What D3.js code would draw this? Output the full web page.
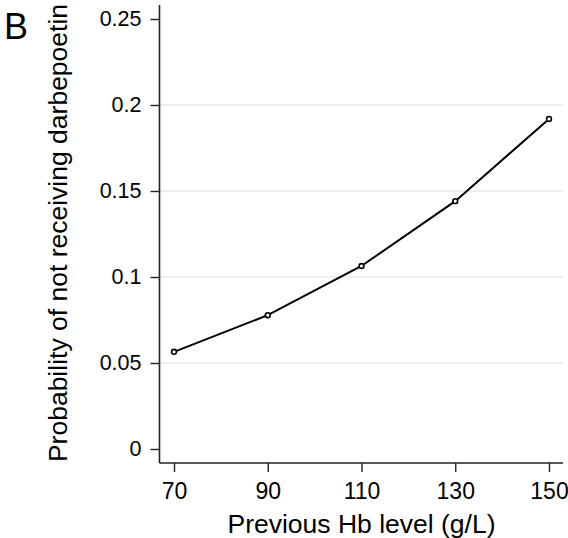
<!DOCTYPE html>
<html><head><meta charset="utf-8">
<script src="https://cdn.jsdelivr.net/npm/d3@7"></script>
<style>body{margin:0;background:#fff}text{font-family:"Liberation Sans",Arial,sans-serif}</style>
</head><body>
<svg id="c" width="568" height="538"></svg>
<script>
const hbLevels = [70, 90, 110, 130, 150];
const probNotReceiving = [0.0565, 0.0778, 0.1064, 0.1441, 0.1919];
const yTicks = [0, 0.05, 0.1, 0.15, 0.2, 0.25];
const yTickLabels = ["0", "0.05", "0.1", "0.15", "0.2", "0.25"];
const gridTicks = [0.05, 0.1, 0.15, 0.2];

(function () {
const svg = d3.select("#c");
const mLeft = 159.5, mRight = 563, mTop = 5, mBottom = 463;
const x = d3.scaleLinear().domain([70, 150]).range([174, 549]);
const y = d3.scaleLinear().domain([0, 0.25]).range([449, 19]);

// gridlines
svg.append("g").selectAll("line").data(gridTicks).join("line")
  .attr("x1", mLeft).attr("x2", mRight)
  .attr("y1", d => y(d)).attr("y2", d => y(d))
  .attr("stroke", "#e0e0e0").attr("stroke-width", 1.2);

// y axis
const ya = svg.append("g").attr("transform", `translate(${mLeft},0)`)
  .call(d3.axisLeft(y).tickValues(yTicks).tickFormat((d, i) => yTickLabels[i]).tickSize(9).tickPadding(9).tickSizeOuter(0));
ya.select(".domain").attr("d", `M0,${mTop}V${mBottom}`).attr("stroke", "#222").attr("stroke-width", 1.6);
ya.selectAll(".tick line").attr("stroke", "#222").attr("stroke-width", 1.4);
ya.selectAll(".tick text").attr("font-size", 21.5).attr("fill", "#000").attr("font-family", "Liberation Sans, Arial, sans-serif");

// x axis
const xa = svg.append("g").attr("transform", `translate(0,${mBottom})`)
  .call(d3.axisBottom(x).tickValues(hbLevels).tickSize(9).tickPadding(11).tickSizeOuter(0));
xa.select(".domain").attr("d", `M${mLeft},0H${mRight}`).attr("stroke", "#222").attr("stroke-width", 1.6);
xa.selectAll(".tick line").attr("stroke", "#222").attr("stroke-width", 1.4);
xa.selectAll(".tick text").attr("font-size", 23).attr("fill", "#000").attr("font-family", "Liberation Sans, Arial, sans-serif");

// line
const pts = hbLevels.map((h, i) => [h, probNotReceiving[i]]);
svg.append("path").datum(pts)
  .attr("d", d3.line().x(d => x(d[0])).y(d => y(d[1])))
  .attr("fill", "none").attr("stroke", "#000").attr("stroke-width", 2);
svg.append("g").selectAll("circle").data(pts).join("circle")
  .attr("cx", d => x(d[0])).attr("cy", d => y(d[1])).attr("r", 2.4)
  .attr("fill", "#fff").attr("stroke", "#000").attr("stroke-width", 1.6);

// titles
svg.append("text").attr("x", 361.5).attr("y", 533).attr("text-anchor", "middle")
  .attr("font-size", 26.5).text("Previous Hb level (g/L)");
svg.append("text").attr("transform", `translate(67,233) rotate(-90)`).attr("text-anchor", "middle")
  .attr("font-size", 26.5).text("Probability of not receiving darbepoetin");
svg.append("text").attr("x", 4).attr("y", 39).attr("font-size", 36).text("B");
})();
</script>
</body></html>
